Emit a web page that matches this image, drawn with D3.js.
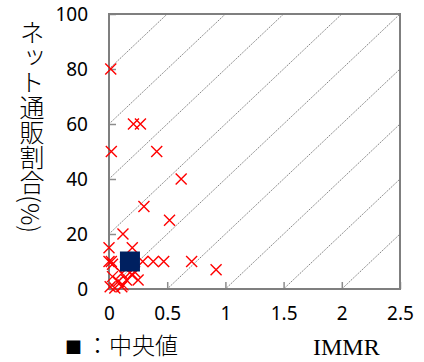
<!DOCTYPE html>
<html>
<head>
<meta charset="utf-8">
<script src="https://cdn.jsdelivr.net/npm/d3@7"></script>
<style>
  body { margin: 0; background: #fff; }
  svg { display: block; }
</style>
</head>
<body>
<svg id="chart" width="424" height="362"></svg>
<script>
// data
const immr = [0.015, 0.21, 0.27, 0.02, 0.41, 0.62, 0.30, 0.52, 0.12, 0.0, 0.20,
  0.0, 0.02, 0.03, 0.29, 0.38, 0.47, 0.71, 0.92,
  0.03, 0.08, 0.15, 0.20, 0.25, 0.01, 0.05, 0.12, 0.22, 0.11, 0.11, 0.18, 0.14];
const netShare = [80, 60, 60, 50, 50, 40, 30, 25, 20, 15, 15,
  10, 10, 9, 10, 10, 10, 10, 7,
  4.5, 2.7, 3.3, 5, 3.3, 0.8, 0.4, 1.5, 6.3, 5.7, 0.8, 6, 8];
const median = [0.18, 10];
const xTicks = [0, 0.5, 1, 1.5, 2, 2.5];
const yTicks = [0, 20, 40, 60, 80, 100];
// reference lines: share = 40 * immr + offset
const diagOffsets = [-80, -60, -40, -20, 0, 20, 40, 60, 80];
const diagSlope = 40;

const svg = d3.select('#chart');
const margin = {left: 109, top: 14, right: 24, bottom: 73};
const width = 424 - margin.left - margin.right;
const height = 362 - margin.top - margin.bottom;

const x = d3.scaleLinear().domain([0, 2.5]).range([0, width]);
const y = d3.scaleLinear().domain([0, 100]).range([height, 0]);

const g = svg.append('g').attr('transform', `translate(${margin.left},${margin.top})`);

// diagonal dashed lines, clipped to the plot box
diagOffsets.forEach(c => {
  const x0 = Math.max(0, -c / diagSlope);
  const x1 = Math.min(2.5, (100 - c) / diagSlope);
  if (x1 <= x0) return;
  g.append('line')
    .attr('x1', x(x0)).attr('y1', y(diagSlope * x0 + c))
    .attr('x2', x(x1)).attr('y2', y(diagSlope * x1 + c))
    .attr('stroke', '#808080')
    .attr('stroke-width', 1)
    .attr('stroke-dasharray', '1.5,1');
});

// axes with inward ticks
const xAxis = g.append('g')
  .attr('transform', `translate(0,${height})`)
  .call(d3.axisBottom(x).tickValues(xTicks).tickSize(-7).tickPadding(24)
    .tickFormat(d3.format('')));
const yAxis = g.append('g')
  .call(d3.axisLeft(y).tickValues(yTicks).tickSize(-7).tickPadding(21));
[xAxis, yAxis].forEach(a => {
  a.select('.domain').remove();
  a.selectAll('line').attr('stroke', '#8c8c8c').attr('stroke-width', 1.5);
  a.selectAll('text')
    .attr('font-family', '"Noto Sans", sans-serif')
    .attr('font-size', 19)
    .attr('fill', '#000');
});
xAxis.selectAll('text').attr('dy', '0.35em');

// plot frame
g.append('rect')
  .attr('width', width).attr('height', height)
  .attr('fill', 'none')
  .attr('stroke', '#7f7f7f')
  .attr('stroke-width', 2);

// red crosses
const s = 5.5;
g.selectAll('path.pt')
  .data(immr.map((v, i) => [v, netShare[i]]))
  .enter().append('path')
  .attr('class', 'pt')
  .attr('d', d => {
    const px = x(d[0]), py = y(d[1]);
    return `M${px - s},${py - s}L${px + s},${py + s}M${px - s},${py + s}L${px + s},${py - s}`;
  })
  .attr('stroke', '#ff0000')
  .attr('stroke-width', 1.4)
  .attr('fill', 'none');

// median square
g.append('rect')
  .attr('x', x(median[0]) - 10).attr('y', y(median[1]) - 10)
  .attr('width', 20).attr('height', 20)
  .attr('fill', '#002060');

// y title, vertical writing
svg.append('text')
  .attr('x', 32).attr('y', 20)
  .attr('writing-mode', 'tb')
  .style('writing-mode', 'vertical-rl')
  .attr('font-family', '"Noto Sans CJK JP", sans-serif')
  .attr('font-weight', 300)
  .attr('font-size', 25)
  .attr('fill', '#000')
  .text('ネット通販割合(%)');

// legend and x title
const legend = svg.append('text')
  .attr('x', 65).attr('y', 354)
  .attr('font-family', '"Noto Sans CJK JP", sans-serif')
  .attr('font-weight', 300)
  .attr('font-size', 23)
  .attr('fill', '#000');
legend.append('tspan').attr('font-size', 17).text('■');
legend.append('tspan').attr('dx', 4).text('：中央値');
svg.append('text')
  .attr('x', 313).attr('y', 355)
  .attr('font-family', '"Liberation Serif", serif')
  .attr('font-size', 24)
  .attr('fill', '#000')
  .text('IMMR');
</script>
</body>
</html>
